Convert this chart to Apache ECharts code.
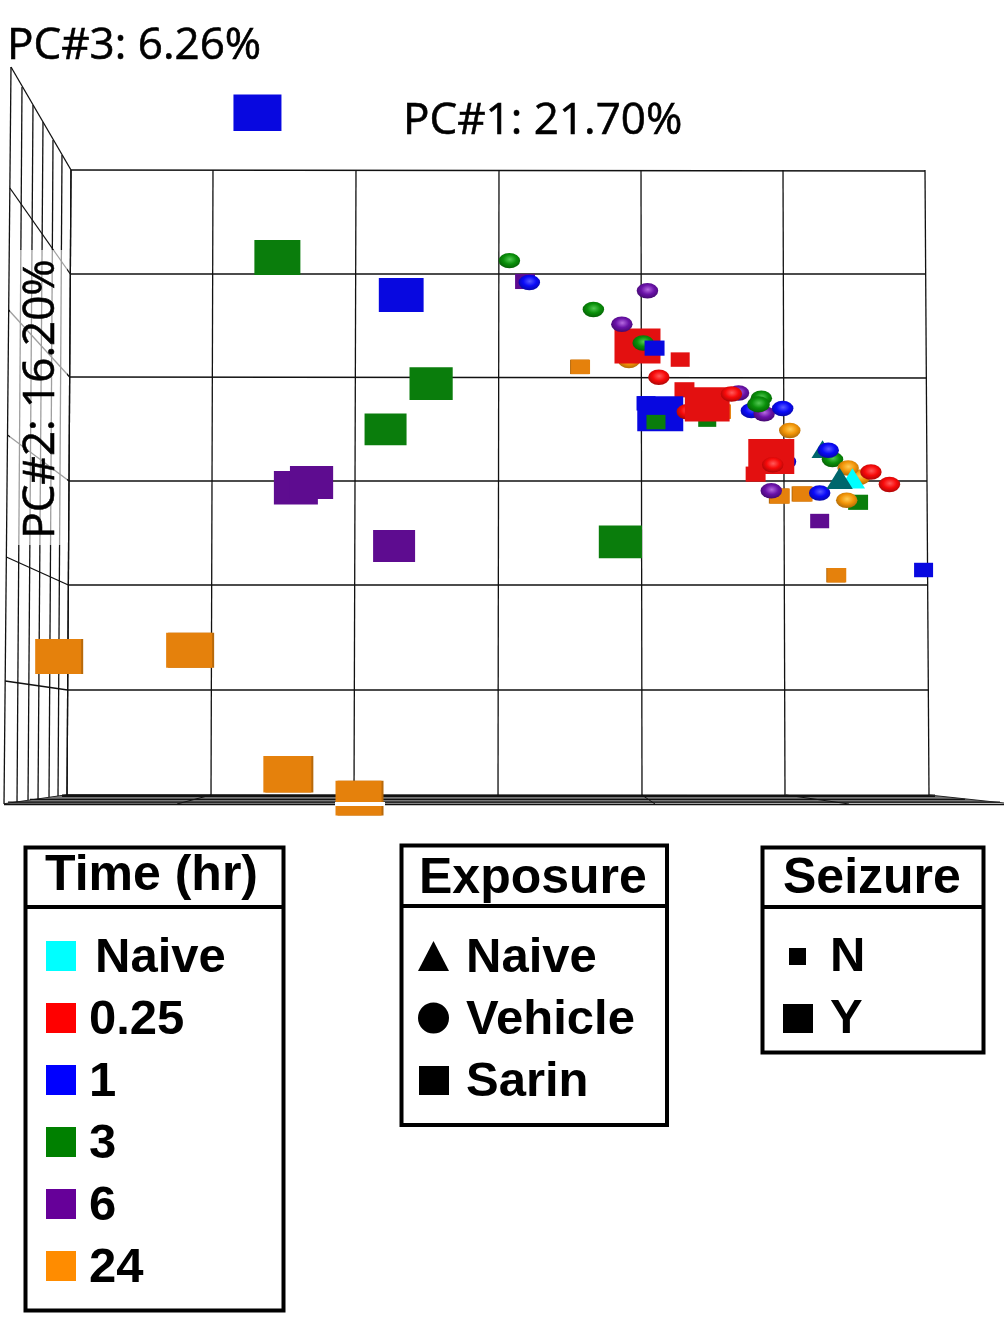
<!DOCTYPE html>
<html>
<head>
<meta charset="utf-8">
<title>PCA</title>
<style>
html, body { margin: 0; padding: 0; background: #fff; }
#chart { width: 1004px; height: 1333px; }
</style>
<script src="https://cdn.jsdelivr.net/npm/echarts@6/dist/echarts.min.js"></script>
</head>
<body>
<div id="chart"></div>
<script>
// each row: [PC1, PC2, PC3] scores, PC3 is the depth
var sarinY_1 = [[-16.9, 35.5, 20], [-6.8, 18.0, 12], [11.4, 6.6, 15]];
var sarinY_3 = [[-15.5, 21.6, 15], [-4.7, 9.5, 8], [-7.9, 5.1, 5], [8.6, -5.7, 8]];
var sarinY_6 = [[-14.2, -0.5, 10], [-13.1, 0, 8], [-7.3, -6.1, 5]];
var sarinY_24 = [[-30.9, -16.7, 15], [-21.7, -16.1, 15], [-14.8, -28.0, 20], [-9.8, -30.3, 15]];
var sarinY_025 = [[9.8, 13.1, 15], [14.7, 7.5, 12], [19.2, 2.5, 15]];

var sarinN_025 = [[12.8, 11.8, 0], [13.1, 8.9, 5], [18.1, 0.8, 5]];
var sarinN_1back = [[10.4, 7.6, 0]];
var sarinN_1 = [[11.0, 12.9, 5], [29.9, -8.4, 0]];
var sarinN_3back = [[14.7, 6.0, -5], [25.3, -1.9, 5]];
var sarinN_3 = [[11.1, 5.8, 0]];
var sarinN_6 = [[1.9, 19.3, 5], [22.6, -3.7, 0]];
var sarinN_24 = [[5.8, 11.1, 0], [19.8, -1.3, 5], [21.4, -1.1, 5], [23.8, -8.9, 0], [15.7, 6.8, 0]];

var vehicle_025back = [[13.3, 6.8, 0]];
var vehicle_025 = [[11.3, 10.1, 0], [16.4, 8.5, 0], [19.3, 1.7, 0], [26.2, 1.0, 0], [27.5, -0.2, 0]];
var vehicle_1back = [[17.8, 6.9, 0], [20.2, 2.0, 0]];
var vehicle_1 = [[2.2, 19.2, 0], [20.0, 7.1, 0], [22.6, -1.0, 0], [23.2, 3.1, 0]];
var vehicle_3 = [[0.8, 21.3, 0], [6.7, 16.6, 0], [10.2, 13.4, 0], [18.5, 8.1, 0], [18.3, 7.5, 5], [23.5, 2.2, 0]];
var vehicle_6 = [[10.5, 18.4, 0], [8.7, 15.2, 0], [16.9, 8.6, 0], [18.7, 6.6, 0], [19.2, -0.8, 0]];
var vehicle_24back = [[9.2, 11.7, 0], [25.4, 0.5, 0]];
var vehicle_24 = [[20.5, 5.0, 0], [24.6, 1.4, 0], [24.5, -1.7, 0]];

var naiveBack = [[22.8, 3.2, 0]];
var naiveLit = [[24.9, 0.4, 15]];
var naiveShade = [[24.0, 0.4, 20]];

var timeLabels = ['Naive', '0.25', '1', '3', '6', '24'];
var exposureLabels = ['Naive', 'Vehicle', 'Sarin'];
var seizureLabels = ['N', 'Y'];

var colors = {
    naive: '#00ffff', shade: '#00666c', red: '#e31010', blue: '#0808e0',
    green: '#0a7d0c', purple: '#5e0c90', orange: '#e5810c'
};
var legendColors = ['#00ffff', '#ff0000', '#0000ff', '#008000', '#660099', '#ff8c00'];
var shades = {
    red: ['#ff5a5a', '#f80a0a', '#900505'],
    blue: ['#5a5aff', '#0a0af8', '#06068a'],
    green: ['#52c852', '#0a900a', '#044e04'],
    purple: ['#b56ae0', '#6a12a8', '#36065c'],
    orange: ['#ffcc55', '#f29508', '#985a06']
};

function ball(name) {
    var s = shades[name];
    return {
        type: 'radial', x: 0.52, y: 0.42, r: 0.68,
        colorStops: [{ offset: 0, color: s[0] }, { offset: 0.45, color: s[1] }, { offset: 1, color: s[2] }]
    };
}

function layer(rows, kind, colorName) {
    var base = { Y: 40, N: 19, V: 21.5, T: 22 }[kind];
    var ratio = { Y: 0.76, N: 0.76, V: 0.72, T: 0.8 }[kind];
    var style = { color: kind === 'V' ? ball(colorName) : colors[colorName], opacity: 1 };
    if (colorName === 'orange' && kind !== 'V') {
        // the cubes show a darker side face in the picture
        style.shadowColor = '#b8690a';
        style.shadowBlur = 0;
        style.shadowOffsetX = kind === 'Y' ? 2 : -1;
    }
    return {
        type: 'scatter',
        silent: true,
        clip: false,
        symbol: kind === 'V' ? 'circle' : (kind === 'T' ? 'triangle' : 'rect'),
        symbolSize: function (val) {
            var w = base * (1 + val[2] / 100);
            return [w, w * ratio];
        },
        itemStyle: style,
        data: rows
    };
}

// drawn back to front, same order as the overlaps in the picture
var series = [
    layer(sarinN_3back, 'N', 'green'),
    layer(sarinN_24, 'N', 'orange'),
    layer(sarinN_6, 'N', 'purple'),
    layer(sarinN_025, 'N', 'red'),
    layer(sarinN_1back, 'N', 'blue'),
    layer(sarinY_24, 'Y', 'orange'),
    layer(sarinY_6, 'Y', 'purple'),
    layer(sarinY_3, 'Y', 'green'),
    layer(sarinY_1, 'Y', 'blue'),
    layer(sarinN_3, 'N', 'green'),
    layer(vehicle_24back, 'V', 'orange'),
    layer(vehicle_025back, 'V', 'red'),
    layer(vehicle_1back, 'V', 'blue'),
    layer(sarinY_025, 'Y', 'red'),
    layer(naiveBack, 'T', 'shade'),
    layer(vehicle_6, 'V', 'purple'),
    layer(vehicle_3, 'V', 'green'),
    layer(vehicle_1, 'V', 'blue'),
    layer(vehicle_24, 'V', 'orange'),
    layer(naiveLit, 'T', 'naive'),
    layer(naiveShade, 'T', 'shade'),
    layer(vehicle_025, 'V', 'red'),
    layer(sarinN_1, 'N', 'blue')
];

// room frame, it has no data in it
var backTop = [71, 213, 356, 499, 641, 783, 925];
var backBottom = [67, 211, 354, 498, 642, 785, 929];
var backLeft = [170, 274, 377, 481, 585, 690, 795];
var backRight = [171, 274, 378, 481, 585, 690, 796];
var wallFront = [67, 188, 310, 435, 557, 681, 804];
var wallTopX = [11, 22, 33, 43, 53, 62, 71];
var wallTopY = [67, 87, 105, 122, 140, 155, 170];
var wallBotX = [4, 17, 28, 38, 49, 58, 67];
var wallBotY = [804, 803, 801, 800, 798, 797, 795];
var floorBack = [211, 354, 642, 786];
var floorFront = [177, 343, 655, 849];

function seg(x1, y1, x2, y2, color, w, z) {
    return {
        type: 'line', z: z || 0, silent: true,
        shape: { x1: x1, y1: y1, x2: x2, y2: y2 },
        style: { stroke: color || '#111', lineWidth: w || 1.3 }
    };
}
function label(str, x, y, size, opts) {
    opts = opts || {};
    return {
        type: 'text', z: 10, silent: true, x: x, y: y,
        rotation: opts.rotation || 0,
        style: {
            text: str, x: 0, y: 0,
            font: (opts.bold ? 'bold ' : '') + size + 'px ' + (opts.family || '"Liberation Sans", Arial, sans-serif'),
            fill: '#000', stroke: opts.heavy ? '#000' : null, lineWidth: opts.heavy || 0,
            textAlign: opts.align || 'left', textVerticalAlign: 'middle'
        }
    };
}
function box(x, y, w, h) {
    return {
        type: 'rect', z: 8, silent: true, shape: { x: x, y: y, width: w, height: h },
        style: { fill: null, stroke: '#000', lineWidth: 4 }
    };
}
function swatch(x, y, w, h, color) {
    return { type: 'rect', z: 8, silent: true, shape: { x: x, y: y, width: w, height: h }, style: { fill: color } };
}

var frame = [];
backTop.forEach(function (x, i) { frame.push(seg(x, 170, backBottom[i], 795)); });
backLeft.forEach(function (y, i) {
    frame.push(seg(67 + 4 * (795 - y) / 625, y, 929 - 4 * (795 - backRight[i]) / 625, backRight[i]));
});
wallTopX.forEach(function (x, i) { frame.push(seg(x, wallTopY[i], wallBotX[i], wallBotY[i])); });
wallFront.forEach(function (y, i) {
    var fx = 4 + 7 * (804 - y) / 737;
    var bx = 67 + 4 * (795 - backLeft[i]) / 625;
    frame.push(seg(fx, y, bx, backLeft[i]));
});
// the wall goes pale behind the PC#2 title
var pale = swatch(10, 250, 57, 295, 'rgba(255,255,255,0.6)');
pale.z = 1;
frame.push(pale);
frame.push({
    type: 'polygon', z: 0, silent: true,
    shape: { points: [[67, 795], [929, 795], [1004, 803], [4, 804]] },
    style: { fill: '#777' }
});
frame.push(seg(62, 795.8, 935, 795.8, '#111', 2.4, 1));
frame.push(seg(30, 799.4, 965, 799.4, '#111', 1.3, 1));
frame.push(seg(8, 802.2, 1000, 802.2, '#111', 1.3, 1));
frame.push(seg(4, 804.6, 1004, 804.6, '#111', 1.5, 1));
floorBack.forEach(function (x, i) { frame.push(seg(x, 795, floorFront[i], 804, '#111', 1, 1)); });
frame.push(seg(929, 795, 1004, 803, '#222', 1.2, 1));
frame.push(swatch(335, 802, 50, 4, '#fff'));

var axisFont = '"Open Sans", "Noto Sans", sans-serif';
var texts = [
    label('PC#3: 6.26%', 7, 46, 44, { family: axisFont, heavy: 0.6 }),
    label('PC#1: 21.70%', 403, 121, 44, { family: axisFont, heavy: 0.6 }),
    label('PC#2: 16.20%', 41, 399, 44, { family: axisFont, rotation: Math.PI / 2, align: 'center', heavy: 0.6 })
];

var rowY = [958, 1020, 1082, 1144, 1206, 1268];
var swatchY = [941, 1003, 1065, 1127, 1189, 1251];
var legend = [
    box(25.5, 847.5, 258, 463), seg(25, 907, 284, 907, '#000', 4, 8),
    label('Time (hr)', 45, 876, 50, { bold: true }),
    box(401.5, 845.5, 265.5, 279.5), seg(401, 906, 668, 906, '#000', 4, 8),
    label('Exposure', 419, 879, 50, { bold: true }),
    box(762.5, 847.5, 221, 205), seg(762, 907, 984, 907, '#000', 4, 8),
    label('Seizure', 783, 879, 50, { bold: true })
];
timeLabels.forEach(function (t, i) {
    legend.push(swatch(46, swatchY[i], 30, 30, legendColors[i]));
    legend.push(label(t, i === 0 ? 95 : 89, rowY[i], 49, { bold: true }));
});
exposureLabels.forEach(function (t, i) {
    legend.push(label(t, 466, rowY[i], 49, { bold: true }));
});
legend.push({ type: 'polygon', z: 8, silent: true, shape: { points: [[433.5, 941], [449, 971], [418, 971]] }, style: { fill: '#000' } });
legend.push({ type: 'circle', z: 8, silent: true, shape: { cx: 433.5, cy: 1018, r: 15.5 }, style: { fill: '#000' } });
legend.push(swatch(419, 1066, 30, 29, '#000'));
seizureLabels.forEach(function (t, i) {
    legend.push(label(t, 830, rowY[i] - 1, 49, { bold: true }));
});
legend.push(swatch(789, 948, 17, 17, '#000'));
legend.push(swatch(783, 1004, 30, 29, '#000'));

var chart = echarts.init(document.getElementById('chart'), null, { renderer: 'canvas' });
chart.setOption({
    animation: false,
    backgroundColor: '#fff',
    grid: { left: 71, top: 170, width: 854, height: 625 },
    xAxis: { type: 'value', min: -30, max: 30, interval: 10, show: false },
    yAxis: { type: 'value', min: -30, max: 30, interval: 10, show: false },
    series: series,
    graphic: { elements: frame.concat(texts, legend) }
});
</script>
</body>
</html>
